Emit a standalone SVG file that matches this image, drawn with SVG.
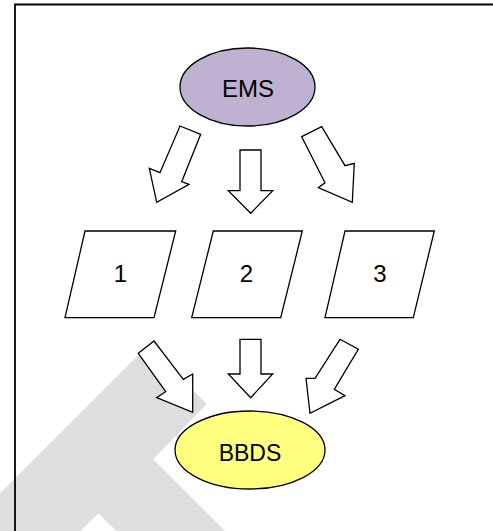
<svg xmlns="http://www.w3.org/2000/svg" width="493" height="531" viewBox="0 0 493 531">
<style>
.sh{stroke:#000;stroke-width:1.3;stroke-linejoin:miter}
.arr{fill:#fff;stroke:#000;stroke-width:1.3;stroke-linejoin:miter}
.t{font-family:"Liberation Sans",Arial,sans-serif;font-size:24px;fill:#000;text-anchor:middle}
</style>
<rect width="493" height="531" fill="#fff"/>
<polygon id="watermark" points="148.3,345 206.7,404 153.3,459.3 225,531 116.5,531 98.3,513.3 80.5,531 0,531 0,493.5" fill="#dedede"/>
<path id="frame" d="M15,531 V4.5 H493" fill="none" stroke="#000" stroke-width="1.8"/>
<g id="connectors">
<polygon class="arr" points="180,126 200.7,134.3 181.7,181.7 189,184.3 156.7,202.3 149.3,168.3 160,172.7"/>
<polygon class="arr" points="240,150 261,150 261,190.7 272.7,190.7 250.7,213.3 228.3,190.7 240,190.7"/>
<polygon class="arr" points="301.7,136.7 321.7,126.7 345,165.7 354.3,163.3 352.3,202.3 318.3,187.7 325,182.7"/>
<polygon class="arr" points="138.3,353.3 154,341 183.3,379.3 192.7,374 192.7,412.3 156.7,397.7 165.7,391.7"/>
<polygon class="arr" points="240,339.3 261,339.3 261,374 272.7,374 250.7,397.7 228.3,374 240,374"/>
<polygon class="arr" points="340,339.3 358.3,349.3 334.3,389.3 345,395.7 310,413.3 306,378.3 315,378.3"/>
</g>
<g id="ems">
<ellipse class="sh" cx="247.5" cy="87" rx="67.5" ry="39" fill="#bfb1d1"/>
<text class="t" x="248" y="97">EMS</text>
</g>
<g id="p1">
<polygon class="sh" points="85,231 175.7,231 154,317.7 65,317.7" fill="#fff"/>
<text class="t" x="120.5" y="282">1</text>
</g>
<g id="p2">
<polygon class="sh" points="213.3,231 302.3,231 280.7,317.7 191.7,317.7" fill="#fff"/>
<text class="t" x="246.5" y="282">2</text>
</g>
<g id="p3">
<polygon class="sh" points="345,231 434.3,231 413.3,317.7 325,317.7" fill="#fff"/>
<text class="t" x="380" y="282">3</text>
</g>
<g id="bbds">
<ellipse class="sh" cx="250" cy="450" rx="75" ry="39" fill="#ffff80"/>
<text class="t" x="250" y="461" style="font-size:23px">BBDS</text>
</g>
</svg>
